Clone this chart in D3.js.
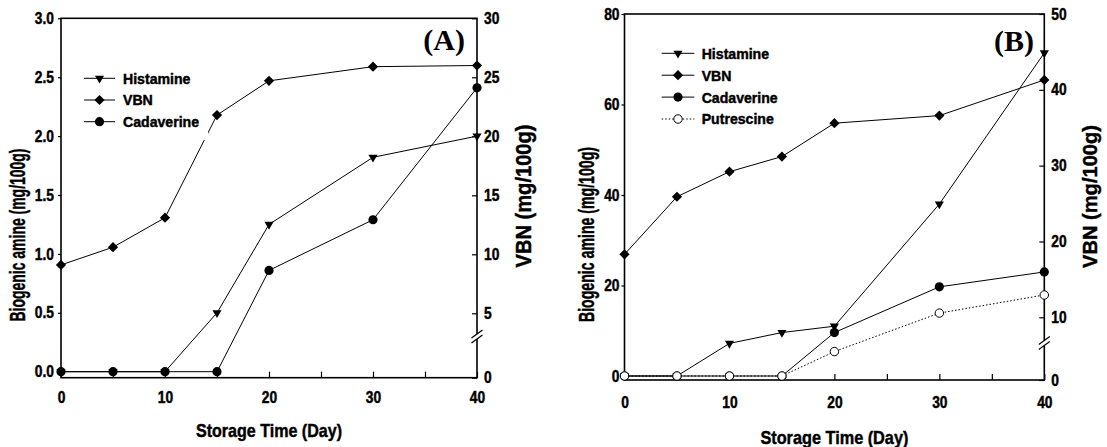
<!DOCTYPE html>
<html>
<head>
<meta charset="utf-8">
<script src="https://cdn.jsdelivr.net/npm/d3@7"></script>
<style>
  body { margin: 0; background: #fff; }
  svg text { font-family: "Liberation Sans", Arial, sans-serif; font-weight: bold; fill: #000; }
  svg text.heavy { stroke: #000; stroke-width: 0.45px; }
</style>
</head>
<body>
<div id="chart"></div>
<script>
const days = [0, 5, 10, 15, 20, 30, 40];
const dayTicks = [0, 5, 10, 15, 20, 25, 30, 35, 40];

// panel A
const histamineA = [0, 0, 0, 0.5, 1.25, 1.82, 2.0];
const vbnA = [9.1, 10.6, 13.1, 21.8, 24.7, 25.9, 26.0];
const cadaverineA = [0, 0, 0, 0, 0.86, 1.29, 2.41];
const amineTicksA = [0, 0.5, 1.0, 1.5, 2.0, 2.5, 3.0];
const vbnTicksA = [0, 5, 10, 15, 20, 25, 30];

// panel B
const histamineB = [0, 0, 7.2, 9.6, 11.0, 38.0, 71.4];
const vbnB = [18.3, 25.9, 29.2, 31.2, 35.6, 36.6, 41.3];
const cadaverineB = [0, 0, 0, 0, 9.6, 19.7, 23.0];
const putrescineB = [0, 0, 0, 0, 5.4, 13.9, 17.9];
const amineTicksB = [0, 20, 40, 60, 80];
const vbnTicksB = [0, 10, 20, 30, 40, 50];

const width = 1107;
const height = 447;

const svg = d3.select('#chart')
  .append('svg')
    .attr('width', width)
    .attr('height', height);

const markers = {
  tri: { path: d3.symbol(d3.symbolTriangle, 36)(), rotate: 180, fill: '#000' },
  diamond: { path: d3.symbol(d3.symbolSquare, 52)(), rotate: 45, fill: '#000' },
  dot: { path: d3.symbol(d3.symbolCircle, 66)(), rotate: 0, fill: '#000' },
  open: { path: d3.symbol(d3.symbolCircle, 56)(), rotate: 0, fill: '#fff' }
};

// the original font is a narrow one, squeeze liberation to fit
let squeeze = (sel, k) => sel.each(function() {
  const len = this.getComputedTextLength();
  d3.select(this).attr('textLength', len * k).attr('lengthAdjust', 'spacingAndGlyphs');
});
let fitTo = (sel, len) => sel.attr('textLength', len).attr('lengthAdjust', 'spacingAndGlyphs');

const panels = [
  {
    label: '(A)', labelX: 465, labelY: 50,
    left: 61, right: 477, top: 18.3, bottom: 377.7, zero: 371.7,
    amineTicks: amineTicksA, amineFormat: d3.format('.1f'),
    vbnTicks: vbnTicksA, vbnBreak: 5, vbnBreakY: 313.3, breakAt: 3.2,
    leftPad: 4, xPad: 14,
    series: [
      { name: 'Histamine', values: histamineA, axis: 'left', marker: 'tri' },
      { name: 'VBN', values: vbnA, axis: 'right', marker: 'diamond' },
      { name: 'Cadaverine', values: cadaverineA, axis: 'left', marker: 'dot' }
    ],
    legend: { x: 84, y: 78.3, dy: 21.7, len: 31, textDx: 39 },
    leftTitle: { x: 25, y: 235, size: 22, len: 173 },
    rightTitle: { x: 531, y: 196, size: 22, len: 143 },
    xTitle: { y: 437, size: 19, len: 146 }
  },
  {
    label: '(B)', labelX: 1034, labelY: 50.7,
    left: 624.5, right: 1044.3, top: 14, bottom: 380, zero: 376,
    amineTicks: amineTicksB, amineFormat: d3.format('d'),
    vbnTicks: vbnTicksB, vbnBreak: 10, vbnBreakY: 317.3, breakAt: 5.9,
    leftPad: 2, xPad: 16.7,
    series: [
      { name: 'Histamine', values: histamineB, axis: 'left', marker: 'tri' },
      { name: 'VBN', values: vbnB, axis: 'right', marker: 'diamond' },
      { name: 'Cadaverine', values: cadaverineB, axis: 'left', marker: 'dot' },
      { name: 'Putrescine', values: putrescineB, axis: 'left', marker: 'open', dotted: true }
    ],
    legend: { x: 661.7, y: 53.3, dy: 21.9, len: 32.6, textDx: 40 },
    leftTitle: { x: 594, y: 234.5, size: 22, len: 175 },
    rightTitle: { x: 1096.5, y: 196.5, size: 21, len: 143 },
    xTitle: { y: 444, size: 19, len: 148 }
  }
];

let styleAxis = g => {
  g.select('.domain').remove();
  g.attr('font-family', null).attr('font-size', null);
  g.selectAll('.tick line').attr('stroke', '#000').attr('stroke-width', 1.2);
  g.selectAll('.tick text')
    .attr('class', 'heavy')
    .style('font-size', '16px')
    .call(squeeze, 0.86);
};

let drawMarker = (sel, m) => sel
  .attr('d', markers[m].path)
  .attr('fill', markers[m].fill)
  .attr('stroke', '#000')
  .attr('stroke-width', m === 'open' ? 1 : 0);

panels.forEach(p => {
  const g = svg.append('g');

  const x = d3.scaleLinear().domain([0, 40]).range([p.left, p.right]);
  const yLeft = d3.scaleLinear()
    .domain([0, d3.max(p.amineTicks)])
    .range([p.zero, p.top]);
  // right axis is broken below the first tick, 0 sits on the bottom line
  const yRight = d3.scaleLinear()
    .domain([0, p.vbnBreak, d3.max(p.vbnTicks)])
    .range([p.bottom, p.vbnBreakY, p.top]);

  // Axes
  g.append('g')
    .attr('transform', `translate(0,${p.bottom})`)
    .call(d3.axisBottom(x)
      .tickValues(dayTicks)
      .tickSize(-6)
      .tickSizeOuter(0)
      .tickPadding(p.xPad)
      .tickFormat(d => d % 10 ? '' : d))
    .call(styleAxis);

  g.append('g')
    .attr('transform', `translate(${p.left},0)`)
    .call(d3.axisLeft(yLeft)
      .tickValues(p.amineTicks)
      .tickSize(3)
      .tickSizeOuter(0)
      .tickPadding(p.leftPad)
      .tickFormat(p.amineFormat))
    .call(styleAxis);

  g.append('g')
    .attr('transform', `translate(${p.right},0)`)
    .call(d3.axisRight(yRight)
      .tickValues(p.vbnTicks)
      .tickSize(-5)
      .tickSizeOuter(0)
      .tickPadding(7))
    .call(styleAxis);

  g.append('rect')
    .attr('x', p.left)
    .attr('y', p.top)
    .attr('width', p.right - p.left)
    .attr('height', p.bottom - p.top)
    .attr('fill', 'none')
    .attr('stroke', '#000')
    .attr('stroke-width', 1.6);

  // axis break
  const by = yRight(p.breakAt);
  g.append('rect')
    .attr('x', p.right - 2)
    .attr('y', by - 2.5)
    .attr('width', 4)
    .attr('height', 5)
    .attr('fill', '#fff');
  [-2.5, 2.5].forEach(o => {
    g.append('line')
      .attr('x1', p.right - 5.5).attr('y1', by + o + 4)
      .attr('x2', p.right + 5.5).attr('y2', by + o - 4)
      .attr('stroke', '#000')
      .attr('stroke-width', 1.2);
  });

  // Series
  p.series.forEach(s => {
    const y = s.axis === 'left' ? yLeft : yRight;
    const line = d3.line()
      .x((d, i) => x(days[i]))
      .y(d => y(d));
    g.append('path')
      .datum(s.values)
      .attr('d', line)
      .attr('fill', 'none')
      .attr('stroke', '#000')
      .attr('stroke-width', 1)
      .attr('stroke-dasharray', s.dotted ? '1.5,2' : null);
    g.selectAll(null)
        .data(s.values)
      .join('path')
        .attr('transform', (d, i) => `translate(${x(days[i])},${y(d)}) rotate(${markers[s.marker].rotate})`)
        .call(drawMarker, s.marker);
  });

  // Legend
  const lg = g.append('g');
  const bg = lg.append('rect').attr('fill', '#fff');
  p.series.forEach((s, i) => {
    const ly = p.legend.y + i * p.legend.dy;
    lg.append('line')
      .attr('x1', p.legend.x).attr('x2', p.legend.x + p.legend.len)
      .attr('y1', ly).attr('y2', ly)
      .attr('stroke', '#000')
      .attr('stroke-width', 1)
      .attr('stroke-dasharray', s.dotted ? '1.5,2' : null);
    lg.append('path')
      .attr('transform', `translate(${p.legend.x + p.legend.len / 2},${ly}) rotate(${markers[s.marker].rotate})`)
      .call(drawMarker, s.marker);
    lg.append('text')
      .attr('class', 'heavy')
      .attr('x', p.legend.x + p.legend.textDx)
      .attr('y', ly)
      .attr('dy', '0.36em')
      .style('font-size', '15px')
      .text(s.name)
      .call(squeeze, 0.94);
  });
  const bb = lg.node().getBBox();
  bg.attr('x', bb.x - 4)
    .attr('y', bb.y - 4)
    .attr('width', bb.width + 13)
    .attr('height', bb.height + 14);

  // Titles
  g.append('text')
    .attr('class', 'heavy')
    .attr('transform', `translate(${p.leftTitle.x},${p.leftTitle.y}) rotate(-90)`)
    .attr('text-anchor', 'middle')
    .style('font-size', p.leftTitle.size + 'px')
    .text('Biogenic amine (mg/100g)')
    .call(fitTo, p.leftTitle.len);

  g.append('text')
    .attr('class', 'heavy')
    .attr('transform', `translate(${p.rightTitle.x},${p.rightTitle.y}) rotate(-90)`)
    .attr('text-anchor', 'middle')
    .style('font-size', p.rightTitle.size + 'px')
    .text('VBN (mg/100g)')
    .call(fitTo, p.rightTitle.len);

  g.append('text')
    .attr('class', 'heavy')
    .attr('x', (p.left + p.right) / 2)
    .attr('y', p.xTitle.y)
    .attr('text-anchor', 'middle')
    .style('font-size', p.xTitle.size + 'px')
    .text('Storage Time (Day)')
    .call(fitTo, p.xTitle.len);

  g.append('text')
    .attr('x', p.labelX)
    .attr('y', p.labelY)
    .attr('text-anchor', 'end')
    .style('font-family', '"Liberation Serif", "Times New Roman", serif')
    .style('font-size', '30px')
    .text(p.label);
});
</script>
</body>
</html>
